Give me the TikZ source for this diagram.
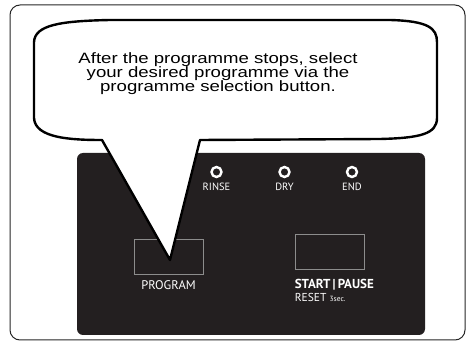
\documentclass[tikz,border=0pt]{standalone}
\usepackage{fontspec}
\setmainfont{Liberation Sans}
\newfontfamily\bubblefont[FakeStretch=1.24]{Liberation Sans}
\newfontfamily\panelfont{PT Sans}
\usetikzlibrary{positioning}
\definecolor{panelgray}{HTML}{231F20}
\definecolor{keygray}{HTML}{8C8C8C}
\tikzset{
  frame/.style={draw=black!85, line width=1pt, rounded corners=10pt},
  bubble/.style={draw=black, line width=2.4pt, fill=white, line join=round},
  led/.style={circle, draw=white, line width=2.4pt, minimum size=10pt, inner sep=0pt},
  panellabel/.style={text=white, font=\panelfont\fontsize{10.5}{12}\selectfont, inner sep=0pt},
  keybox/.style={draw=keygray, line width=0.8pt, minimum width=69pt, minimum height=35pt, inner sep=0pt},
}

\begin{document}
\begin{tikzpicture}[x=1pt, y=-1pt]
\useasboundingbox (0,0) rectangle (467,350);
% outer frame and control panel
\draw[frame] (10,5) rectangle (465,340);
\fill[panelgray, rounded corners=6pt] (77,153) rectangle (425,335);

% indicator lamps
\node[led] (rinse) at (216.5,172) {};
\node[led] (dry) at (284.5,172) {};
\node[led] (end) at (352,172) {};
\node[panellabel, below=5pt of rinse] (rinselbl) {RINSE};
\node[panellabel, below=5pt of dry] (drylbl) {DRY};
\node[panellabel, below=5pt of end] (endlbl) {END};

% keys
\node[keybox] (prog) at (168.5,256.5) {};
\node[keybox] (start) at (329.5,251.8) {};
\node[panellabel, below=6pt of prog, font=\panelfont\fontsize{12.5}{13}\selectfont] (proglbl) {PROGRAM};
\node[panellabel, below=9pt of start.south west, anchor=north west, font=\panelfont\bfseries\fontsize{13}{14}\selectfont] (startlbl) {START\,\textbar\,PAUSE};
\node[panellabel, below=3pt of startlbl.south west, anchor=north west, font=\panelfont\fontsize{11.5}{12}\selectfont] (resetlbl) {RESET {\fontsize{7.5}{8}\selectfont 3sec.}};

% speech bubble with tail
\coordinate (tip) at (170,260);
\draw[bubble] (102,140) .. controls (70,140) and (35,138) .. (34,118)
  -- (34,42) .. controls (35,25) and (60,21) .. (110,20)
  -- (390,20) .. controls (428,21) and (437,28) .. (437,42)
  -- (437,118) .. controls (437,134) and (420,138) .. (380,139)
  -- (200,140) -- (tip) -- cycle;
\node[align=center, font=\bubblefont\fontsize{15}{14}\selectfont] (msg) at (218,74)
  {After the programme stops, select\\your desired programme via the\\programme selection button.};
\end{tikzpicture}
\end{document}
